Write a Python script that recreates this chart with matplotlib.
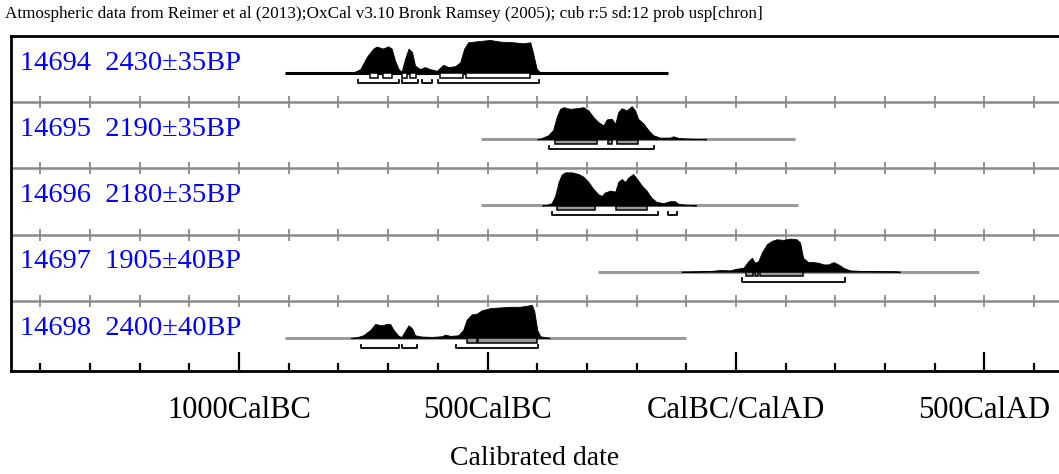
import matplotlib.pyplot as plt
from matplotlib.patches import Rectangle

plt.rcParams['font.family'] = ['Liberation Serif', 'DejaVu Serif']

title = "Atmospheric data from Reimer et al (2013);OxCal v3.10 Bronk Ramsey (2005); cub r:5 sd:12 prob usp[chron]"
labels = ["14694  2430\u00b135BP", "14695  2190\u00b135BP", "14696  2180\u00b135BP",
          "14697  1905\u00b140BP", "14698  2400\u00b140BP"]

# probability curves (year, relative probability)
yr1 = [-775, -770, -756, -743, -730, -723, -710, -700, -693, -686, -679, -673, -666, -659, -652,
       -646, -636, -626, -616, -602, -589, -579, -565, -555, -547, -539, -515, -495, -475, -448,
       -428, -414, -409, -401, -394, -390]
p1 = [0, 0.02, 0.12, 0.49, 0.74, 0.80, 0.74, 0.81, 0.74, 0.37, 0.12, 0.04, 0.43, 0.74, 0.64,
      0.23, 0.12, 0.18, 0.12, 0.07, 0.25, 0.18, 0.21, 0.33, 0.74, 0.93, 0.97, 1.00, 0.95, 0.93,
      0.90, 0.93, 0.64, 0.12, 0.02, 0]

yr2 = [-400, -394, -378, -368, -361, -354, -347, -334, -320, -307, -297, -287, -277, -267, -260,
       -250, -243, -237, -230, -220, -210, -203, -197, -186, -176, -166, -153, -133, -126, -116,
       -99, -60]
p2 = [0, 0.02, 0.12, 0.28, 0.67, 0.92, 0.97, 0.92, 0.94, 0.97, 0.87, 0.67, 0.52, 0.42, 0.60,
      0.62, 0.47, 0.82, 0.94, 0.87, 1.00, 0.87, 0.62, 0.47, 0.27, 0.12, 0.05, 0.05, 0.09, 0.04,
      0.02, 0]

yr3 = [-390, -381, -371, -364, -357, -351, -344, -330, -317, -307, -297, -287, -277, -270, -264,
       -253, -243, -237, -230, -223, -217, -207, -200, -190, -180, -170, -160, -146, -133, -123,
       -116, -99, -80]
p3 = [0, 0.02, 0.07, 0.29, 0.71, 0.93, 1.00, 1.00, 0.95, 0.87, 0.71, 0.50, 0.34, 0.29, 0.39,
      0.45, 0.42, 0.71, 0.80, 0.71, 0.84, 0.95, 0.82, 0.61, 0.45, 0.23, 0.11, 0.07, 0.13, 0.13,
      0.05, 0.02, 0]

yr4 = [-110, -80, -52, -32, -12, 1, 15, 25, 32, 38, 45, 52, 62, 72, 82, 95, 109, 122, 129, 135,
       145, 155, 166, 176, 186, 196, 206, 216, 229, 256, 290, 320, 330]
p4 = [0, 0.01, 0.02, 0.05, 0.04, 0.09, 0.12, 0.32, 0.42, 0.27, 0.32, 0.58, 0.83, 0.93, 0.98,
      0.96, 1.00, 0.98, 0.88, 0.42, 0.29, 0.29, 0.27, 0.22, 0.22, 0.29, 0.22, 0.12, 0.04, 0.02,
      0.015, 0.01, 0]

yr5 = [-775, -763, -750, -736, -726, -720, -713, -703, -696, -689, -679, -673, -666, -659, -652,
       -646, -632, -612, -592, -585, -575, -559, -549, -542, -532, -522, -512, -495, -475, -455,
       -435, -421, -411, -406, -400, -394, -384, -375]
p5 = [0, 0.02, 0.08, 0.24, 0.42, 0.40, 0.38, 0.42, 0.42, 0.24, 0.06, 0.03, 0.21, 0.38, 0.29,
      0.08, 0.04, 0.03, 0.05, 0.10, 0.06, 0.08, 0.24, 0.55, 0.71, 0.73, 0.83, 0.90, 0.92, 0.94,
      0.94, 0.97, 1.00, 0.81, 0.24, 0.05, 0.02, 0]

years = [yr1, yr2, yr3, yr4, yr5]
probs = [p1, p2, p3, p4, p5]

# extent of the likelihood line for each date
spans = [(-907, -137), (-513, 119), (-513, 124), (-278, 489), (-907, -101)]

# 68.2% and 95.4% ranges
r68 = [[(-736, -720), (-710, -693), (-673, -663), (-656, -643), (-596, -549), (-543, -414)],
       [(-364, -280), (-257, -250), (-240, -197)],
       [(-361, -284), (-241, -180)],
       [(20, 35), (38, 45), (48, 135)],
       [(-542, -522), (-519, -401)]]
r95 = [[(-760, -679), (-673, -639), (-632, -612), (-599, -397)],
       [(-376, -165)],
       [(-371, -156), (-136, -119)],
       [(13, 220)],
       [(-755, -679), (-673, -641), (-563, -398)]]

major_ticks = [-1000, -500, 0, 500]
major_labels = ["1000CalBC", "500CalBC", "CalBC/CalAD", "500CalAD"]
minor_ticks = [y for y in range(-1400, 700, 100) if y not in major_ticks]

fig = plt.figure(figsize=(10.59, 4.74), dpi=100)
ax = fig.add_axes([11 / 1059, 103 / 474, 1048 / 1059, 335 / 474])
ax.set_xlim(-1459, 650)
ax.set_ylim(-0.06, 5.0)

peak = 0.5
for i in range(5):
    base = 4 - i + 0.44
    line_col = 'black' if i == 0 else '#9a9a9a'
    ax.plot(spans[i], [base, base], color=line_col, lw=2.2, solid_capstyle='butt', zorder=2)
    ax.fill_between(years[i], base, [base + peak * p for p in probs[i]],
                    color='black', lw=0.6, zorder=3)
    face = 'white' if i == 0 else '#9a9a9a'
    for a, b in r68[i]:
        ax.add_patch(Rectangle((a, base - 0.07), b - a, 0.065, facecolor=face,
                               edgecolor='black', lw=1.1, zorder=4))
    for a, b in r95[i]:
        ax.plot([a, a, b, b], [base - 0.10, base - 0.15, base - 0.15, base - 0.10],
                color='black', lw=1.3, zorder=4)
    ax.text(-1441, base + 0.05, labels[i], color='blue', fontsize=20.5, va='baseline', ha='left')

# row separators with crossing ticks
for k in range(1, 5):
    ax.axhline(k, color='#8a8a8a', lw=1.8, zorder=1)
    ax.vlines(minor_ticks + major_ticks, k - 0.09, k + 0.09, color='#8a8a8a', lw=1.3, zorder=1)

ax.set_xticks(major_ticks)
ax.set_xticklabels(major_labels, fontsize=22)
ax.set_xticks(minor_ticks, minor=True)
ax.tick_params(axis='x', which='major', direction='in', length=13.5, width=1.6, pad=18)
ax.tick_params(axis='x', which='minor', direction='in', length=6, width=1.6)
ax.set_yticks([])
ax.set_xlabel("Calibrated date", fontsize=20, labelpad=15)
for s in ['left', 'top', 'bottom']:
    ax.spines[s].set_linewidth(2)
ax.spines['right'].set_visible(False)

fig.text(5 / 1059, 1 - 14 / 474, title, fontsize=12.3, va='center', ha='left')

fig.savefig('out.png', dpi=100)
